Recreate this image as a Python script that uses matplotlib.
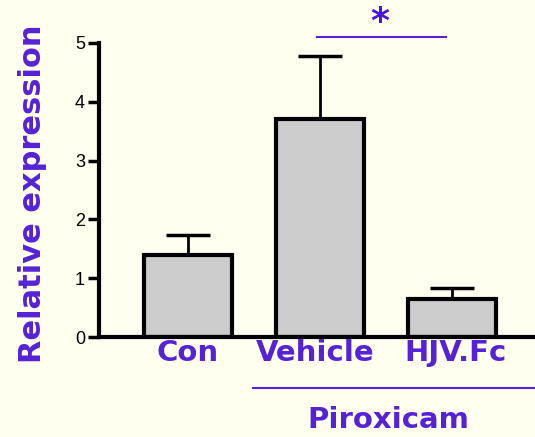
import matplotlib
matplotlib.use("Agg")
import matplotlib.pyplot as plt

categories = ["Con", "Vehicle", "HJV.Fc"]
values = [1.40, 3.70, 0.65]
errors = [0.33, 1.08, 0.19]
yticks = [0, 1, 2, 3, 4, 5]
group_label = "Piroxicam"
ylabel = "Relative expression"

BG = "#FFFFF0"
PURPLE = "#5522D8"
W, H = 535, 437
fig = plt.figure(figsize=(W / 100, H / 100), dpi=100, facecolor=BG)
ax = fig.add_axes([99 / W, (437 - 337) / H, (535 - 99) / W, (337 - 43) / H])
ax.set_facecolor(BG)

x = list(range(len(categories)))
ax.bar(x, values, width=0.667, color="#CCCCCC", edgecolor="black", linewidth=3, zorder=2)
ax.errorbar(x, values, yerr=[[0] * len(errors), errors], fmt="none", ecolor="black",
            elinewidth=2, capsize=16, capthick=2.5, zorder=1)

ax.set_xlim(-0.674, 2.629)
ax.set_ylim(0, 5)
ax.set_yticks(yticks)
ax.set_yticklabels([str(t) for t in yticks], fontsize=13, family="Liberation Sans")
ax.tick_params(axis="y", length=8, width=2.5, pad=2, colors="black")
ax.set_xticks([])
for s in ["top", "right"]:
    ax.spines[s].set_visible(False)
ax.spines["left"].set_linewidth(3)
ax.spines["bottom"].set_linewidth(3)
ax.spines["left"].set_bounds(0, 5)

# category labels
label_x = [0, 0.96, 2.03]
for xi, lab in zip(label_x, categories):
    ax.text(xi, -0.27, lab, ha="center", va="center", fontsize=21, fontweight="bold",
            color=PURPLE, family="DejaVu Sans", clip_on=False)

# group line and label
ax.plot([0.49, 2.7], [-0.87, -0.87], color=PURPLE, lw=1.5, clip_on=False)
ax.text(1.52, -1.41, group_label, ha="center", va="center", fontsize=21, fontweight="bold",
        color=PURPLE, family="DejaVu Sans", clip_on=False)

# significance
ax.plot([0.98, 1.955], [5.11, 5.11], color=PURPLE, lw=1.5, clip_on=False)
ax.text(1.455, 5.36, "*", ha="center", va="center", fontsize=26, fontweight="bold",
        color="#4A14D8", family="DejaVu Sans", clip_on=False)

fig.text(33 / W, 1 - 194 / H, ylabel, rotation=90, ha="center", va="center",
         fontsize=22, fontweight="bold", color=PURPLE, family="DejaVu Sans")

fig.savefig("out.png", dpi=100, facecolor=BG)
